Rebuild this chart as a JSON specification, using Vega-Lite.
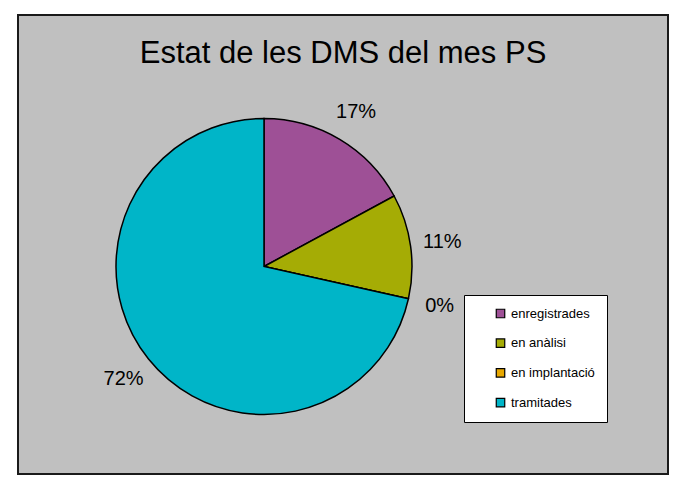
{
  "$schema": "https://vega.github.io/schema/vega-lite/v6.json",
  "width": 650,
  "height": 459,
  "autosize": {"type": "none"},
  "padding": {"left": 18, "top": 15, "right": 5, "bottom": 4},
  "background": "white",
  "view": {"fill": "#C0C0C0", "stroke": "#1a1a1a", "strokeWidth": 2},
  "title": {
    "text": "Estat de les DMS del mes PS",
    "font": "Liberation Sans",
    "fontSize": 31,
    "fontWeight": "normal",
    "color": "black",
    "anchor": "middle",
    "baseline": "alphabetic",
    "offset": -79
  },
  "data": {
    "values": [
      {"estat": "enregistrades", "valor": 17.1, "etiqueta": "17%", "ord": 1},
      {"estat": "en anàlisi", "valor": 11.4, "etiqueta": "11%", "ord": 2},
      {"estat": "en implantació", "valor": 0, "etiqueta": "0%", "ord": 3},
      {"estat": "tramitades", "valor": 71.5, "etiqueta": "72%", "ord": 4}
    ]
  },
  "layer": [
    {
      "mark": {"type": "arc", "x": 246, "y": 251.5, "outerRadius": 148, "stroke": "black", "strokeWidth": 1.5},
      "encoding": {
        "theta": {"field": "valor", "type": "quantitative", "stack": true},
        "order": {"field": "ord", "type": "quantitative"},
        "color": {
          "field": "estat",
          "type": "nominal",
          "scale": {
            "domain": ["enregistrades", "en anàlisi", "en implantació", "tramitades"],
            "range": ["#9E5096", "#A5AC05", "#E8A800", "#00B5C8"]
          },
          "legend": {
            "title": null,
            "orient": "none",
            "legendX": 446,
            "legendY": 280,
            "fillColor": "white",
            "strokeColor": "black",
            "padding": 12,
            "symbolOffset": 18,
            "symbolType": "square",
            "symbolSize": 72,
            "symbolStrokeColor": "black",
            "symbolStrokeWidth": 1.2,
            "labelFont": "Liberation Sans",
            "labelFontSize": 13,
            "labelColor": "black",
            "labelOffset": 4,
            "rowPadding": 14.7
          }
        }
      }
    },
    {
      "mark": {"type": "text", "x": 246, "y": 251.5, "radius": 180, "font": "Liberation Sans", "fontSize": 20, "color": "black"},
      "encoding": {
        "theta": {"field": "valor", "type": "quantitative", "stack": true},
        "order": {"field": "ord", "type": "quantitative"},
        "text": {"field": "etiqueta", "type": "nominal"}
      }
    }
  ]
}
